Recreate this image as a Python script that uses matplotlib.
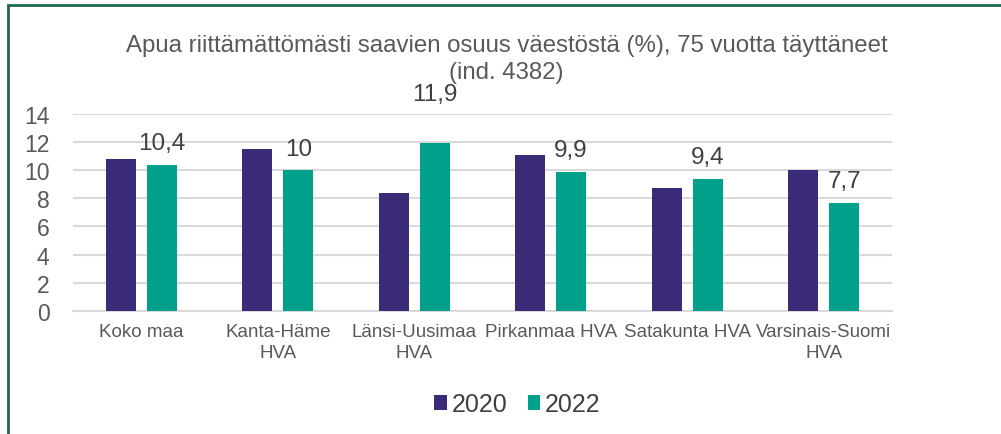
import numpy as np
import matplotlib.pyplot as plt
from matplotlib.patches import Rectangle

plt.rcParams['font.family'] = ['Liberation Sans', 'DejaVu Sans']

# Data
categories = ["Koko maa", "Kanta-Häme\nHVA", "Länsi-Uusimaa\nHVA", "Pirkanmaa HVA",
              "Satakunta HVA", "Varsinais-Suomi\nHVA"]
values_2020 = [10.8, 11.5, 8.4, 11.1, 8.7, 10.0]
values_2022 = [10.4, 10.0, 11.9, 9.9, 9.4, 7.7]
labels_2022 = ["10,4", "10", "11,9", "9,9", "9,4", "7,7"]
yticks = [0, 2, 4, 6, 8, 10, 12, 14]

c2020 = "#3B2A78"
c2022 = "#00A08A"
grey = "#595959"

fig = plt.figure(figsize=(10.01, 4.35), dpi=100)
ax = fig.add_axes([0.073, 0.283, 0.818, 0.453])

x = np.arange(len(categories))
w = 0.22
ax.bar(x - 0.15, values_2020, w, color=c2020, label="2020", zorder=3)
bars = ax.bar(x + 0.15, values_2022, w, color=c2022, label="2022", zorder=3)

# label lift above bar top (the 11,9 label sits higher in the original)
lift = [0.75, 0.75, 2.7, 0.75, 0.75, 0.75]
for b, lab, dy in zip(bars, labels_2022, lift):
    ax.text(b.get_x() + b.get_width() / 2, b.get_height() + dy, lab,
            ha="center", va="bottom", fontsize=17.5, color="#404040")

ax.set_xlim(-0.5, len(categories) - 0.5)
ax.set_ylim(0, 14)
ax.set_yticks(yticks)
ax.set_xticks(x)
ax.set_xticklabels(categories, fontsize=13.5, color=grey, linespacing=1.25)
ax.tick_params(axis="y", labelsize=16.5, colors=grey, length=0, pad=17)
ax.tick_params(axis="x", length=0, pad=9)
ax.grid(axis="y", color="#D9D9D9", lw=1.5, zorder=0)
for s in ["top", "right", "left"]:
    ax.spines[s].set_visible(False)
ax.spines["bottom"].set_color("#D9D9D9")
ax.spines["bottom"].set_linewidth(1.5)

fig.text(0.506, 0.864, "Apua riittämättömästi saavien osuus väestöstä (%), 75 vuotta täyttäneet\n(ind. 4382)",
         ha="center", va="center", fontsize=17.3, color=grey, linespacing=1.3)

fig.legend(loc="center", bbox_to_anchor=(0.517, 0.068), ncol=2, frameon=False,
           fontsize=18, handlelength=0.5, handleheight=0.5, handletextpad=0.2,
           columnspacing=0.8, labelcolor="#404040")

# green frame (top and left edges visible)
fig.patches.append(Rectangle((8 / 1001, -0.1), 1.2, 1 - 6 / 435 + 0.1,
                             transform=fig.transFigure, fill=False,
                             edgecolor="#1E6B4A", lw=2, figure=fig))

fig.savefig("out.png", dpi=100)
